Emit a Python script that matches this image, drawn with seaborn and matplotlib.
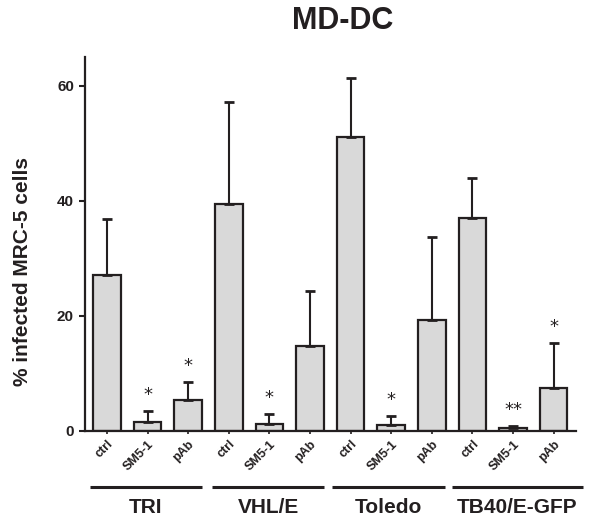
import matplotlib
matplotlib.use("Agg")
import matplotlib.pyplot as plt
import seaborn as sns
import pandas as pd
import numpy as np

# ---- data ----
strains = ["TRI", "VHL/E", "Toledo", "TB40/E-GFP"]
treatments = ["ctrl", "SM5-1", "pAb"]
means = [27.1, 1.5, 5.3,
         39.4, 1.2, 14.8,
         51.0, 1.0, 19.2,
         37.0, 0.5, 7.5]
err_tops = [36.8, 3.5, 8.4,
            57.1, 2.9, 24.3,
            61.4, 2.6, 33.7,
            44.0, 0.9, 15.2]
signif = ["", "*", "*",
          "", "*", "",
          "", "*", "",
          "", "**", "*"]
yticks = [0, 20, 40, 60]
title = "MD-DC"
ylabel = "% infected MRC-5 cells"

ink = "#231f20"
fill = "#d9d9d9"

sns.set_theme(style="ticks")
plt.rcParams["font.family"] = ["Liberation Sans", "DejaVu Sans"]
plt.rcParams["font.weight"] = "bold"

rows = []
for si, s in enumerate(strains):
    for ti, t in enumerate(treatments):
        k = si * 3 + ti
        rows.append({"cond": f"{s}|{t}", "treat": t, "strain": s, "value": means[k]})
df = pd.DataFrame(rows)
order = list(df["cond"])

fig = plt.figure(figsize=(6.0, 5.29), dpi=100)
ax = fig.add_axes([85.5 / 600, 1 - 430.7 / 529, 490.5 / 600, (430.7 - 57) / 529])

sns.barplot(data=df, x="cond", y="value", order=order, color=fill, width=0.68,
            errorbar=None, edgecolor=ink, linewidth=1.6, saturation=1, ax=ax)
for p in ax.patches:
    p.set_facecolor(fill)

xs = np.arange(len(order))
upper = np.array(err_tops) - np.array(means)
ax.errorbar(xs, means, yerr=[np.zeros_like(upper), upper], fmt="none",
            ecolor=ink, elinewidth=1.5, capsize=3.8, capthick=2.0, zorder=1)

for x, et, s in zip(xs, err_tops, signif):
    if s:
        ax.text(x, et + 1.9, s, ha="center", va="baseline", fontsize=13,
                fontweight="normal", family="DejaVu Sans", color=ink)

ax.set_xlim(-0.53, 11.55)
ax.set_ylim(0, 65)
ax.set_yticks(yticks)
ax.set_yticklabels([str(v) for v in yticks], fontsize=11, fontweight="bold", color=ink)
ax.set_xticks(xs)
ax.set_xticklabels([r["treat"] for r in rows], rotation=45, ha="right",
                   rotation_mode="anchor", fontsize=9, fontweight="bold", color=ink)
ax.tick_params(axis="y", length=4.3, width=1.5, color=ink, pad=4)
ax.tick_params(axis="x", length=2.5, width=1.2, color=ink, pad=3)
ax.set_xlabel("")
ax.set_ylabel("")
sns.despine(ax=ax)
for sp in ["left", "bottom"]:
    ax.spines[sp].set_linewidth(1.6)
    ax.spines[sp].set_color(ink)

# group lines and labels under the axis
line_y = (430.7 - 486.7) / 5.745
text_y = (430.7 - 507.5) / 5.745
starts = [-0.42, -0.42, -0.45, -0.51]
ends = [2.33, 2.35, 2.32, 2.73]
for gi, s in enumerate(strains):
    x0 = gi * 3 + starts[gi]
    x1 = gi * 3 + ends[gi]
    ax.plot([x0, x1], [line_y, line_y], color=ink, lw=2.2, clip_on=False,
            solid_capstyle="butt")
    ax.text((x0 + x1) / 2, text_y, s, ha="center", va="center", fontsize=15,
            fontweight="bold", color=ink, clip_on=False)

fig.text(343 / 600, 1 - 21 / 529, title, ha="center", va="center", fontsize=22,
         fontweight="bold", color=ink)
fig.text(23 / 600, 1 - 271.5 / 529, ylabel, ha="center", va="center", rotation=90,
         fontsize=15, fontweight="bold", color=ink)

fig.savefig("out.png", dpi=100)
